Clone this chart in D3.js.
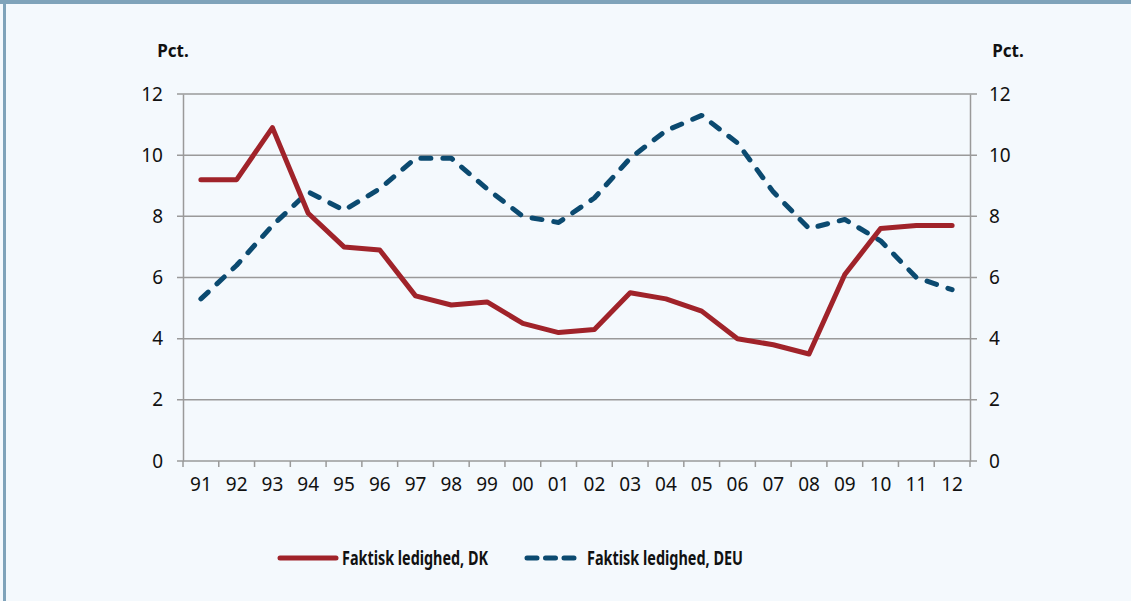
<!DOCTYPE html>
<html>
<head>
<meta charset="utf-8">
<script src="https://cdn.jsdelivr.net/npm/d3@7"></script>
<style>
  html, body { margin: 0; padding: 0; background: #f4f9fd; }
  svg { display: block; font-family: "Noto Sans", "Open Sans", sans-serif; }
</style>
</head>
<body>
<svg id="chart" width="1131" height="601"></svg>
<script>
const years = ["91", "92", "93", "94", "95", "96", "97", "98", "99", "00", "01",
  "02", "03", "04", "05", "06", "07", "08", "09", "10", "11", "12"]
const dk = [9.2, 9.2, 10.9, 8.1, 7.0, 6.9, 5.4, 5.1, 5.2, 4.5, 4.2,
  4.3, 5.5, 5.3, 4.9, 4.0, 3.8, 3.5, 6.1, 7.6, 7.7, 7.7]
const deu = [5.3, 6.4, 7.7, 8.8, 8.2, 8.9, 9.9, 9.9, 8.9, 8.0, 7.8,
  8.6, 9.9, 10.8, 11.3, 10.4, 8.8, 7.6, 7.9, 7.2, 6.0, 5.6]
const yTicks = [0, 2, 4, 6, 8, 10, 12]
const seriesNames = ["Faktisk ledighed, DK", "Faktisk ledighed, DEU"]

const red = "#a0232a"
const blue = "#0b4a70"
const grid = "#9a9a9a"

const svg = d3.select("#chart")

// frame
svg.append("rect").attr("x", 0).attr("y", 0).attr("width", 1131).attr("height", 4).attr("fill", "#7fa3ba")
svg.append("rect").attr("x", 3).attr("y", 0).attr("width", 3).attr("height", 601).attr("fill", "#7fa3ba")

const x = d3.scaleBand().domain(years).range([183, 970])
const y = d3.scaleLinear().domain([0, 12]).range([461, 94])

// gridlines
svg.append("g")
  .selectAll("line")
  .data(yTicks)
  .join("line")
  .attr("x1", 177)
  .attr("x2", 977)
  .attr("y1", d => y(d))
  .attr("y2", d => y(d))
  .attr("stroke", grid)
  .attr("stroke-width", 1.5)

// y axes
const yLeft = svg.append("g").attr("transform", "translate(183,0)")
  .call(d3.axisLeft(y).tickValues(yTicks).tickSize(0).tickPadding(20))
const yRight = svg.append("g").attr("transform", "translate(970,0)")
  .call(d3.axisRight(y).tickValues(yTicks).tickSize(0).tickPadding(19))
for (const ax of [yLeft, yRight]) {
  ax.select(".domain").attr("stroke", grid).attr("stroke-width", 1.5)
  ax.selectAll("text").attr("font-size", 19).attr("fill", "#111")
    .attr("font-family", "Noto Sans, sans-serif")
}

// x axis
const xAxis = svg.append("g").attr("transform", "translate(0,461)")
  .call(d3.axisBottom(x).tickSize(0).tickPadding(17))
xAxis.select(".domain").remove()
xAxis.selectAll("text").attr("font-size", 19).attr("fill", "#111")
  .attr("font-family", "Noto Sans, sans-serif")
svg.append("g")
  .selectAll("line")
  .data(years.concat(["end"]))
  .join("line")
  .attr("x1", (d, i) => x.range()[0] + i * x.step())
  .attr("x2", (d, i) => x.range()[0] + i * x.step())
  .attr("y1", 461)
  .attr("y2", 467)
  .attr("stroke", grid)
  .attr("stroke-width", 1.5)

// axis titles
svg.append("text").text("Pct.").attr("x", 173).attr("y", 57)
  .attr("text-anchor", "middle").attr("font-weight", "bold").attr("font-size", 17).attr("fill", "#111")
svg.append("text").text("Pct.").attr("x", 1008).attr("y", 57)
  .attr("text-anchor", "middle").attr("font-weight", "bold").attr("font-size", 17).attr("fill", "#111")

// lines
const line = d3.line()
  .x((d, i) => x(years[i]) + x.bandwidth() / 2)
  .y(d => y(d))

svg.append("path")
  .datum(deu)
  .attr("d", line)
  .attr("fill", "none")
  .attr("stroke", blue)
  .attr("stroke-width", 5)
  .attr("stroke-dasharray", "10,12")
  .attr("stroke-linecap", "round")
  .attr("stroke-linejoin", "round")

svg.append("path")
  .datum(dk)
  .attr("d", line)
  .attr("fill", "none")
  .attr("stroke", red)
  .attr("stroke-width", 5)
  .attr("stroke-linecap", "round")
  .attr("stroke-linejoin", "round")

// legend
const legend = svg.append("g")
legend.append("line").attr("x1", 280).attr("x2", 336).attr("y1", 558).attr("y2", 558)
  .attr("stroke", red).attr("stroke-width", 5).attr("stroke-linecap", "round")
legend.append("text").text(seriesNames[0]).attr("x", 342).attr("y", 565)
  .attr("font-weight", "bold").attr("font-size", 20).attr("fill", "#111")
  .attr("textLength", 146).attr("lengthAdjust", "spacingAndGlyphs")
legend.append("line").attr("x1", 527).attr("x2", 574).attr("y1", 558).attr("y2", 558)
  .attr("stroke", blue).attr("stroke-width", 5).attr("stroke-linecap", "round")
  .attr("stroke-dasharray", "10,8.5")
legend.append("text").text(seriesNames[1]).attr("x", 587).attr("y", 565)
  .attr("font-weight", "bold").attr("font-size", 20).attr("fill", "#111")
  .attr("textLength", 156).attr("lengthAdjust", "spacingAndGlyphs")
</script>
</body>
</html>
